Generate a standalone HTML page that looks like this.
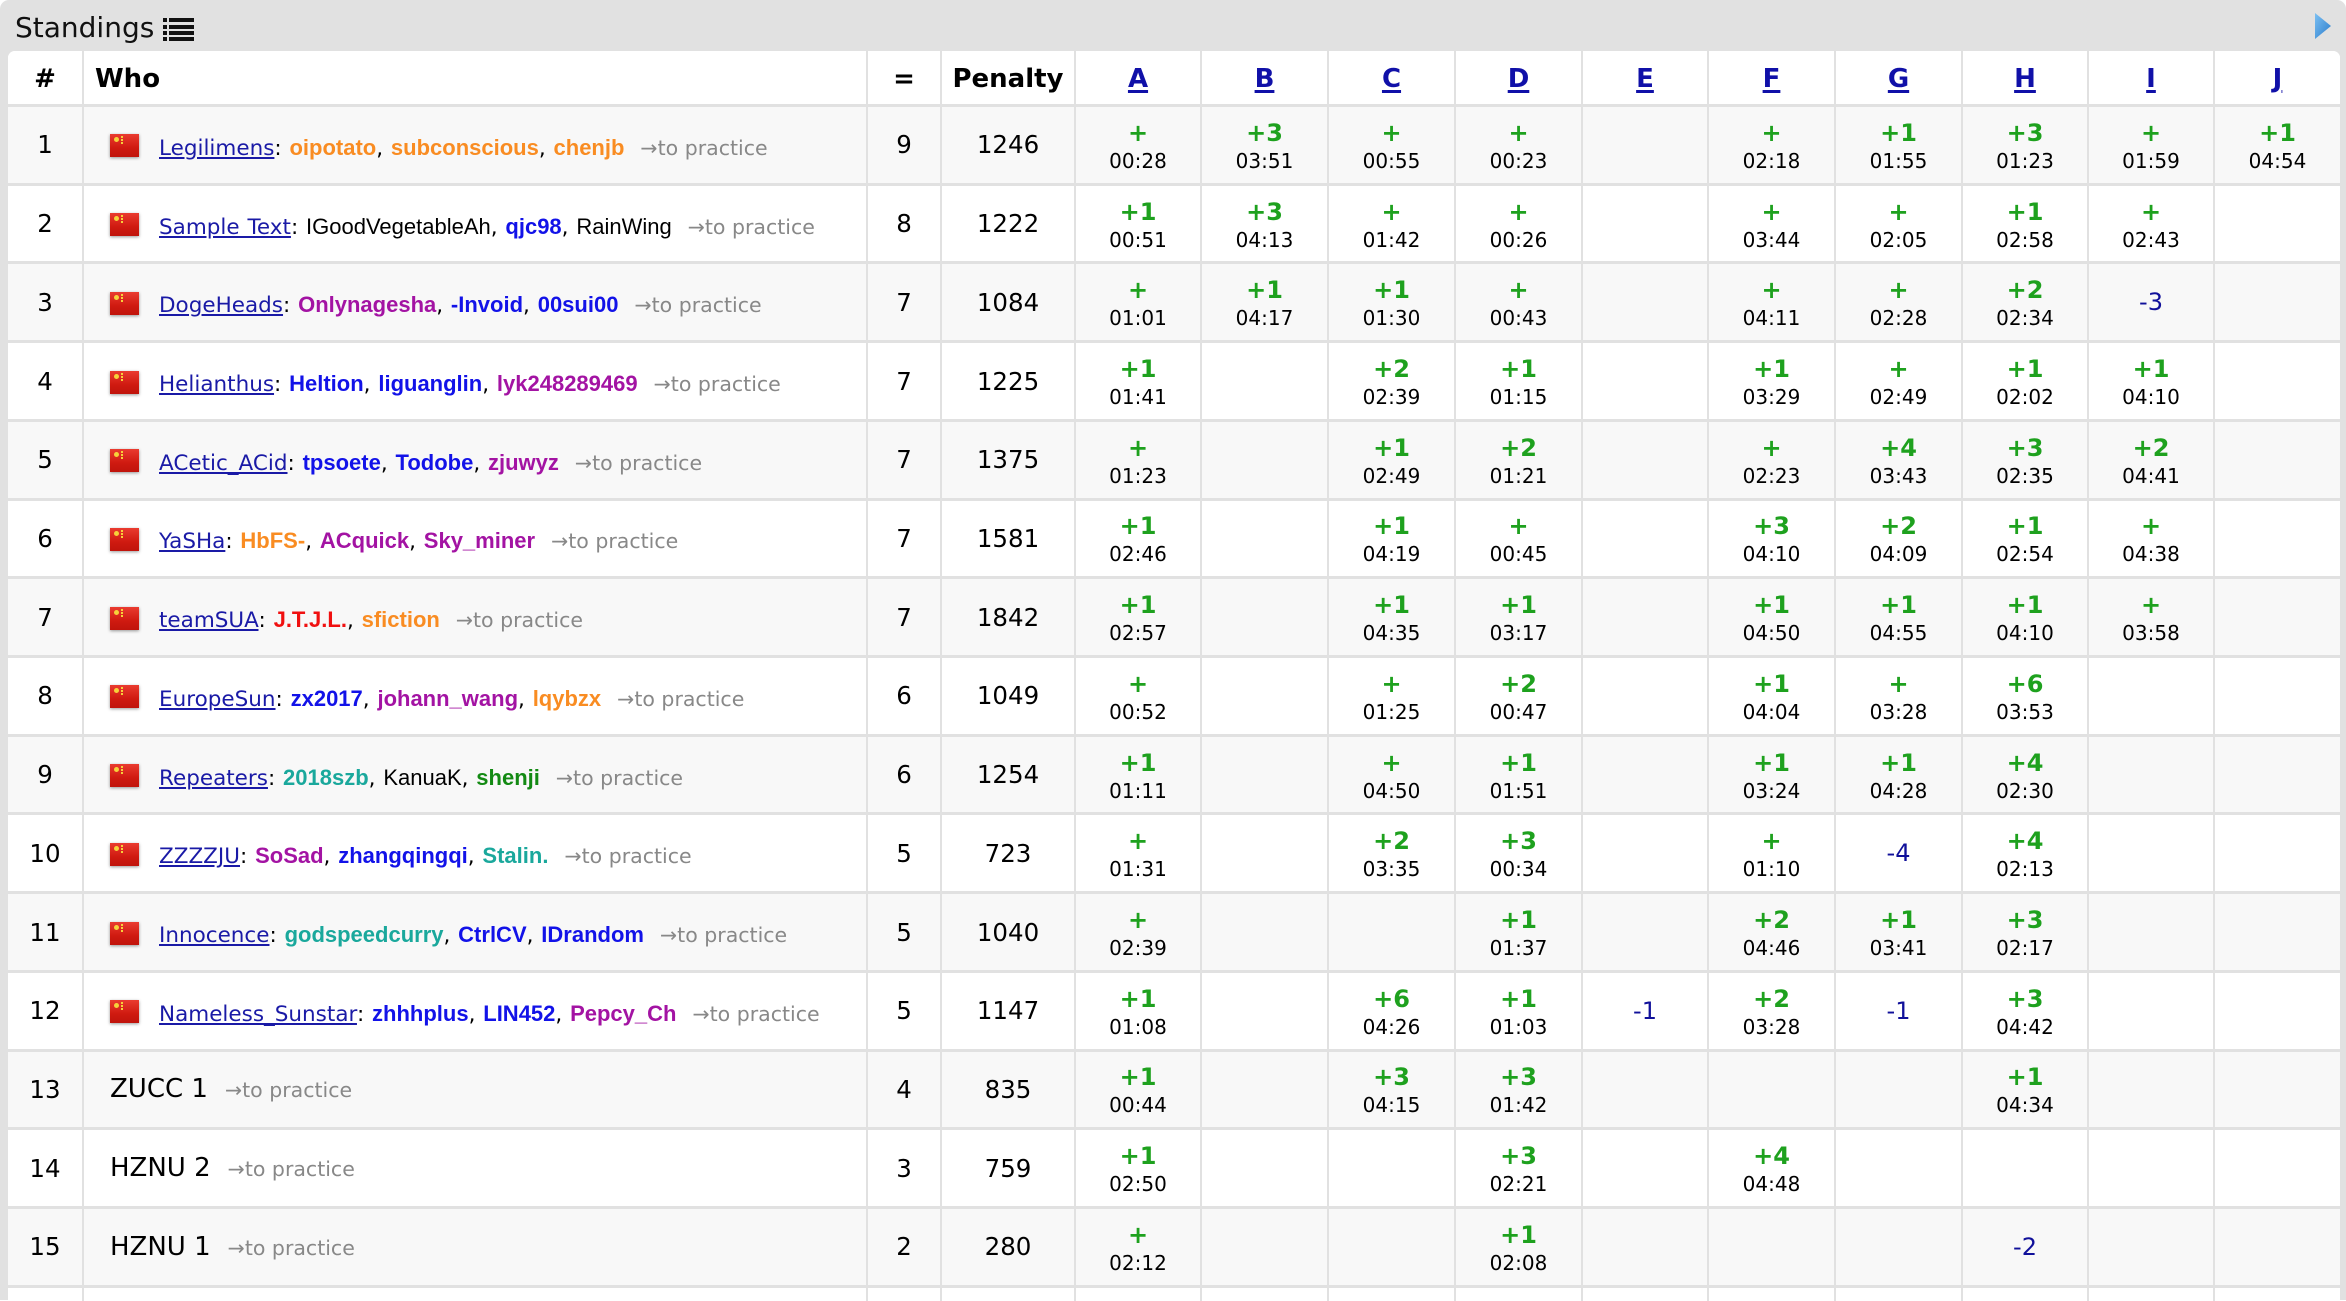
<!DOCTYPE html>
<html><head><meta charset="utf-8"><style>
*{margin:0;padding:0;box-sizing:border-box}
body{width:2346px;height:1290px;overflow:hidden;background:#fff;position:relative;font-family:"DejaVu Sans",Verdana,sans-serif;color:#000}
.frame{position:absolute;left:0;top:0;width:2346px;height:1300px;background:#e1e1e1;border-radius:9px 9px 0 0}
.title{position:absolute;left:15px;top:0;height:51px;line-height:51px;padding-top:2px;font-size:28px;color:#111;white-space:nowrap}
.ico{position:absolute;left:163px;top:18px;width:31px;height:24px}
.ico i{position:absolute;height:4px;background:#111}
.tri{position:absolute;left:2313px;top:12px}
.tbl{position:absolute;left:8px;top:51px;width:2332px;height:1250px;background:#fff;border-radius:7px 7px 0 0;overflow:hidden}
.h{display:flex;height:53px;background:#fff}
.r{display:flex;height:78.73px;border-top:3px solid #e1e1e1;background:#fff}
.r.o{background:#f8f8f8}
.c{border-left:2px solid #e1e1e1;display:flex;flex-direction:column;align-items:center;justify-content:center;text-align:center;flex:none;white-space:nowrap}
.h>.c:first-child,.r>.c:first-child{border-left:none}
.h>.c:nth-child(1),.r>.c:nth-child(1){width:74px}
.h>.c:nth-child(2),.r>.c:nth-child(2){width:784px}
.h>.c:nth-child(3),.r>.c:nth-child(3){width:74px}
.h>.c:nth-child(4),.r>.c:nth-child(4){width:134px}
.h>.c:nth-child(5),.r>.c:nth-child(5){width:126px}
.h>.c:nth-child(6),.r>.c:nth-child(6){width:127px}
.h>.c:nth-child(7),.r>.c:nth-child(7){width:127px}
.h>.c:nth-child(8),.r>.c:nth-child(8){width:127px}
.h>.c:nth-child(9),.r>.c:nth-child(9){width:126px}
.h>.c:nth-child(10),.r>.c:nth-child(10){width:127px}
.h>.c:nth-child(11),.r>.c:nth-child(11){width:127px}
.h>.c:nth-child(12),.r>.c:nth-child(12){width:126px}
.h>.c:nth-child(13),.r>.c:nth-child(13){width:126px}
.h>.c:nth-child(14),.r>.c:nth-child(14){width:127px}
.h .c{font-weight:bold;font-size:26px;padding-top:2px}
.h .c a{color:#1010a8;text-decoration:underline;text-decoration-thickness:3px;text-underline-offset:3px}
.h .who{align-items:flex-start;padding-left:11px}
.r .c{font-size:24.5px}
.r .w{flex-direction:row;justify-content:flex-start;align-items:center;padding-left:26px}
.r .p4{padding-top:4px}
.a{font-weight:bold;font-size:24px;line-height:28px;color:#1ea11e}
.t{font-size:20px;line-height:28px;color:#000}
.rj{font-size:24px;color:#10109a}
.flag{width:29px;height:23px;background:linear-gradient(#ea3b2f,#cf1a10 60%,#c0140c);box-shadow:0 1px 3px rgba(0,0,0,.4);margin-right:20px;position:relative;flex:none;top:1px}
.flag:before{content:"";position:absolute;left:4px;top:3px;width:5px;height:5px;background:#f6d23a;border-radius:50%}
.flag:after{content:"";position:absolute;left:11px;top:2px;width:2px;height:8px;border-left:2px dotted #f6d23a}
.tx{font-size:21.5px;position:relative;top:3px;word-spacing:1px}
.tx a{color:#1a1aa6;text-decoration:underline;text-underline-offset:2px}
.u{font-family:"Liberation Sans",Arial,sans-serif;font-weight:bold;font-size:22px;word-spacing:0}
.n{font-family:"Liberation Sans",Arial,sans-serif;font-size:22px;color:#000;word-spacing:0}
.or{color:#f98c22}.vi{color:#a313a3}.bl{color:#1212e8}.cy{color:#1aa89c}.gr{color:#138a13}.rd{color:#f01010}
.p{color:#888;font-size:20.5px;margin-left:16px;word-spacing:0}
.tn{font-size:26px;color:#000;position:relative;top:0}
.tn .p{margin-left:17px}
</style></head><body>
<div class="frame"></div>
<div class="title">Standings</div>
<div class="ico"><i style="left:0;top:0;width:4px"></i><i style="left:6px;top:0;width:25px"></i><i style="left:0;top:7px;width:4px"></i><i style="left:6px;top:7px;width:25px"></i><i style="left:0;top:13px;width:4px"></i><i style="left:6px;top:13px;width:25px"></i><i style="left:0;top:19px;width:4px"></i><i style="left:6px;top:19px;width:25px"></i></div>
<svg class="tri" width="20" height="28" viewBox="0 0 20 28"><defs><linearGradient id="g" x1="0" y1="0" x2="1" y2="1"><stop offset="0" stop-color="#7cc0f2"/><stop offset="1" stop-color="#2a7ccc"/></linearGradient></defs><polygon points="2,1 18,14 2,27" fill="url(#g)"/></svg>
<div class="tbl">
<div class="h"><div class="c">#</div><div class="c who">Who</div><div class="c">=</div><div class="c">Penalty</div><div class="c"><a>A</a></div><div class="c"><a>B</a></div><div class="c"><a>C</a></div><div class="c"><a>D</a></div><div class="c"><a>E</a></div><div class="c"><a>F</a></div><div class="c"><a>G</a></div><div class="c"><a>H</a></div><div class="c"><a>I</a></div><div class="c"><a>J</a></div></div>

<div class="r o"><div class="c">1</div><div class="c w"><div class="flag"></div><span class="tx"><a>Legilimens</a>: <span class="u or">oipotato</span>, <span class="u or">subconscious</span>, <span class="u or">chenjb</span><span class="p">→to practice</span></span></div><div class="c">9</div><div class="c">1246</div>
<div class="c p4"><div class="a">+</div><div class="t">00:28</div></div><div class="c p4"><div class="a">+3</div><div class="t">03:51</div></div><div class="c p4"><div class="a">+</div><div class="t">00:55</div></div><div class="c p4"><div class="a">+</div><div class="t">00:23</div></div><div class="c"></div><div class="c p4"><div class="a">+</div><div class="t">02:18</div></div><div class="c p4"><div class="a">+1</div><div class="t">01:55</div></div><div class="c p4"><div class="a">+3</div><div class="t">01:23</div></div><div class="c p4"><div class="a">+</div><div class="t">01:59</div></div><div class="c p4"><div class="a">+1</div><div class="t">04:54</div></div></div>

<div class="r"><div class="c">2</div><div class="c w"><div class="flag"></div><span class="tx"><a>Sample Text</a>: <span class="n">IGoodVegetableAh</span>, <span class="u bl">qjc98</span>, <span class="n">RainWing</span><span class="p">→to practice</span></span></div><div class="c">8</div><div class="c">1222</div>
<div class="c p4"><div class="a">+1</div><div class="t">00:51</div></div><div class="c p4"><div class="a">+3</div><div class="t">04:13</div></div><div class="c p4"><div class="a">+</div><div class="t">01:42</div></div><div class="c p4"><div class="a">+</div><div class="t">00:26</div></div><div class="c"></div><div class="c p4"><div class="a">+</div><div class="t">03:44</div></div><div class="c p4"><div class="a">+</div><div class="t">02:05</div></div><div class="c p4"><div class="a">+1</div><div class="t">02:58</div></div><div class="c p4"><div class="a">+</div><div class="t">02:43</div></div><div class="c"></div></div>

<div class="r o"><div class="c">3</div><div class="c w"><div class="flag"></div><span class="tx"><a>DogeHeads</a>: <span class="u vi">Onlynagesha</span>, <span class="u bl">-Invoid</span>, <span class="u bl">00sui00</span><span class="p">→to practice</span></span></div><div class="c">7</div><div class="c">1084</div>
<div class="c p4"><div class="a">+</div><div class="t">01:01</div></div><div class="c p4"><div class="a">+1</div><div class="t">04:17</div></div><div class="c p4"><div class="a">+1</div><div class="t">01:30</div></div><div class="c p4"><div class="a">+</div><div class="t">00:43</div></div><div class="c"></div><div class="c p4"><div class="a">+</div><div class="t">04:11</div></div><div class="c p4"><div class="a">+</div><div class="t">02:28</div></div><div class="c p4"><div class="a">+2</div><div class="t">02:34</div></div><div class="c"><div class="rj">-3</div></div><div class="c"></div></div>

<div class="r"><div class="c">4</div><div class="c w"><div class="flag"></div><span class="tx"><a>Helianthus</a>: <span class="u bl">Heltion</span>, <span class="u bl">liguanglin</span>, <span class="u vi">lyk248289469</span><span class="p">→to practice</span></span></div><div class="c">7</div><div class="c">1225</div>
<div class="c p4"><div class="a">+1</div><div class="t">01:41</div></div><div class="c"></div><div class="c p4"><div class="a">+2</div><div class="t">02:39</div></div><div class="c p4"><div class="a">+1</div><div class="t">01:15</div></div><div class="c"></div><div class="c p4"><div class="a">+1</div><div class="t">03:29</div></div><div class="c p4"><div class="a">+</div><div class="t">02:49</div></div><div class="c p4"><div class="a">+1</div><div class="t">02:02</div></div><div class="c p4"><div class="a">+1</div><div class="t">04:10</div></div><div class="c"></div></div>

<div class="r o"><div class="c">5</div><div class="c w"><div class="flag"></div><span class="tx"><a>ACetic_ACid</a>: <span class="u bl">tpsoete</span>, <span class="u bl">Todobe</span>, <span class="u vi">zjuwyz</span><span class="p">→to practice</span></span></div><div class="c">7</div><div class="c">1375</div>
<div class="c p4"><div class="a">+</div><div class="t">01:23</div></div><div class="c"></div><div class="c p4"><div class="a">+1</div><div class="t">02:49</div></div><div class="c p4"><div class="a">+2</div><div class="t">01:21</div></div><div class="c"></div><div class="c p4"><div class="a">+</div><div class="t">02:23</div></div><div class="c p4"><div class="a">+4</div><div class="t">03:43</div></div><div class="c p4"><div class="a">+3</div><div class="t">02:35</div></div><div class="c p4"><div class="a">+2</div><div class="t">04:41</div></div><div class="c"></div></div>

<div class="r"><div class="c">6</div><div class="c w"><div class="flag"></div><span class="tx"><a>YaSHa</a>: <span class="u or">HbFS-</span>, <span class="u vi">ACquick</span>, <span class="u vi">Sky_miner</span><span class="p">→to practice</span></span></div><div class="c">7</div><div class="c">1581</div>
<div class="c p4"><div class="a">+1</div><div class="t">02:46</div></div><div class="c"></div><div class="c p4"><div class="a">+1</div><div class="t">04:19</div></div><div class="c p4"><div class="a">+</div><div class="t">00:45</div></div><div class="c"></div><div class="c p4"><div class="a">+3</div><div class="t">04:10</div></div><div class="c p4"><div class="a">+2</div><div class="t">04:09</div></div><div class="c p4"><div class="a">+1</div><div class="t">02:54</div></div><div class="c p4"><div class="a">+</div><div class="t">04:38</div></div><div class="c"></div></div>

<div class="r o"><div class="c">7</div><div class="c w"><div class="flag"></div><span class="tx"><a>teamSUA</a>: <span class="u rd">J.T.J.L.</span>, <span class="u or">sfiction</span><span class="p">→to practice</span></span></div><div class="c">7</div><div class="c">1842</div>
<div class="c p4"><div class="a">+1</div><div class="t">02:57</div></div><div class="c"></div><div class="c p4"><div class="a">+1</div><div class="t">04:35</div></div><div class="c p4"><div class="a">+1</div><div class="t">03:17</div></div><div class="c"></div><div class="c p4"><div class="a">+1</div><div class="t">04:50</div></div><div class="c p4"><div class="a">+1</div><div class="t">04:55</div></div><div class="c p4"><div class="a">+1</div><div class="t">04:10</div></div><div class="c p4"><div class="a">+</div><div class="t">03:58</div></div><div class="c"></div></div>

<div class="r"><div class="c">8</div><div class="c w"><div class="flag"></div><span class="tx"><a>EuropeSun</a>: <span class="u bl">zx2017</span>, <span class="u vi">johann_wang</span>, <span class="u or">lqybzx</span><span class="p">→to practice</span></span></div><div class="c">6</div><div class="c">1049</div>
<div class="c p4"><div class="a">+</div><div class="t">00:52</div></div><div class="c"></div><div class="c p4"><div class="a">+</div><div class="t">01:25</div></div><div class="c p4"><div class="a">+2</div><div class="t">00:47</div></div><div class="c"></div><div class="c p4"><div class="a">+1</div><div class="t">04:04</div></div><div class="c p4"><div class="a">+</div><div class="t">03:28</div></div><div class="c p4"><div class="a">+6</div><div class="t">03:53</div></div><div class="c"></div><div class="c"></div></div>

<div class="r o"><div class="c">9</div><div class="c w"><div class="flag"></div><span class="tx"><a>Repeaters</a>: <span class="u cy">2018szb</span>, <span class="n">KanuaK</span>, <span class="u gr">shenji</span><span class="p">→to practice</span></span></div><div class="c">6</div><div class="c">1254</div>
<div class="c p4"><div class="a">+1</div><div class="t">01:11</div></div><div class="c"></div><div class="c p4"><div class="a">+</div><div class="t">04:50</div></div><div class="c p4"><div class="a">+1</div><div class="t">01:51</div></div><div class="c"></div><div class="c p4"><div class="a">+1</div><div class="t">03:24</div></div><div class="c p4"><div class="a">+1</div><div class="t">04:28</div></div><div class="c p4"><div class="a">+4</div><div class="t">02:30</div></div><div class="c"></div><div class="c"></div></div>

<div class="r"><div class="c">10</div><div class="c w"><div class="flag"></div><span class="tx"><a>ZZZZJU</a>: <span class="u vi">SoSad</span>, <span class="u bl">zhangqingqi</span>, <span class="u cy">Stalin.</span><span class="p">→to practice</span></span></div><div class="c">5</div><div class="c">723</div>
<div class="c p4"><div class="a">+</div><div class="t">01:31</div></div><div class="c"></div><div class="c p4"><div class="a">+2</div><div class="t">03:35</div></div><div class="c p4"><div class="a">+3</div><div class="t">00:34</div></div><div class="c"></div><div class="c p4"><div class="a">+</div><div class="t">01:10</div></div><div class="c"><div class="rj">-4</div></div><div class="c p4"><div class="a">+4</div><div class="t">02:13</div></div><div class="c"></div><div class="c"></div></div>

<div class="r o"><div class="c">11</div><div class="c w"><div class="flag"></div><span class="tx"><a>Innocence</a>: <span class="u cy">godspeedcurry</span>, <span class="u bl">CtrlCV</span>, <span class="u bl">IDrandom</span><span class="p">→to practice</span></span></div><div class="c">5</div><div class="c">1040</div>
<div class="c p4"><div class="a">+</div><div class="t">02:39</div></div><div class="c"></div><div class="c"></div><div class="c p4"><div class="a">+1</div><div class="t">01:37</div></div><div class="c"></div><div class="c p4"><div class="a">+2</div><div class="t">04:46</div></div><div class="c p4"><div class="a">+1</div><div class="t">03:41</div></div><div class="c p4"><div class="a">+3</div><div class="t">02:17</div></div><div class="c"></div><div class="c"></div></div>

<div class="r"><div class="c">12</div><div class="c w"><div class="flag"></div><span class="tx"><a>Nameless_Sunstar</a>: <span class="u bl">zhhhplus</span>, <span class="u bl">LIN452</span>, <span class="u vi">Pepcy_Ch</span><span class="p">→to practice</span></span></div><div class="c">5</div><div class="c">1147</div>
<div class="c p4"><div class="a">+1</div><div class="t">01:08</div></div><div class="c"></div><div class="c p4"><div class="a">+6</div><div class="t">04:26</div></div><div class="c p4"><div class="a">+1</div><div class="t">01:03</div></div><div class="c"><div class="rj">-1</div></div><div class="c p4"><div class="a">+2</div><div class="t">03:28</div></div><div class="c"><div class="rj">-1</div></div><div class="c p4"><div class="a">+3</div><div class="t">04:42</div></div><div class="c"></div><div class="c"></div></div>

<div class="r o"><div class="c">13</div><div class="c w"><span class="tn">ZUCC 1<span class="p">→to practice</span></span></div><div class="c">4</div><div class="c">835</div>
<div class="c p4"><div class="a">+1</div><div class="t">00:44</div></div><div class="c"></div><div class="c p4"><div class="a">+3</div><div class="t">04:15</div></div><div class="c p4"><div class="a">+3</div><div class="t">01:42</div></div><div class="c"></div><div class="c"></div><div class="c"></div><div class="c p4"><div class="a">+1</div><div class="t">04:34</div></div><div class="c"></div><div class="c"></div></div>

<div class="r"><div class="c">14</div><div class="c w"><span class="tn">HZNU 2<span class="p">→to practice</span></span></div><div class="c">3</div><div class="c">759</div>
<div class="c p4"><div class="a">+1</div><div class="t">02:50</div></div><div class="c"></div><div class="c"></div><div class="c p4"><div class="a">+3</div><div class="t">02:21</div></div><div class="c"></div><div class="c p4"><div class="a">+4</div><div class="t">04:48</div></div><div class="c"></div><div class="c"></div><div class="c"></div><div class="c"></div></div>

<div class="r o"><div class="c">15</div><div class="c w"><span class="tn">HZNU 1<span class="p">→to practice</span></span></div><div class="c">2</div><div class="c">280</div>
<div class="c p4"><div class="a">+</div><div class="t">02:12</div></div><div class="c"></div><div class="c"></div><div class="c p4"><div class="a">+1</div><div class="t">02:08</div></div><div class="c"></div><div class="c"></div><div class="c"></div><div class="c"><div class="rj">-2</div></div><div class="c"></div><div class="c"></div></div>

<div class="r"><div class="c"></div><div class="c"></div><div class="c"></div><div class="c"></div><div class="c"></div><div class="c"></div><div class="c"></div><div class="c"></div><div class="c"></div><div class="c"></div><div class="c"></div><div class="c"></div><div class="c"></div><div class="c"></div></div>
</div>
</body></html>
